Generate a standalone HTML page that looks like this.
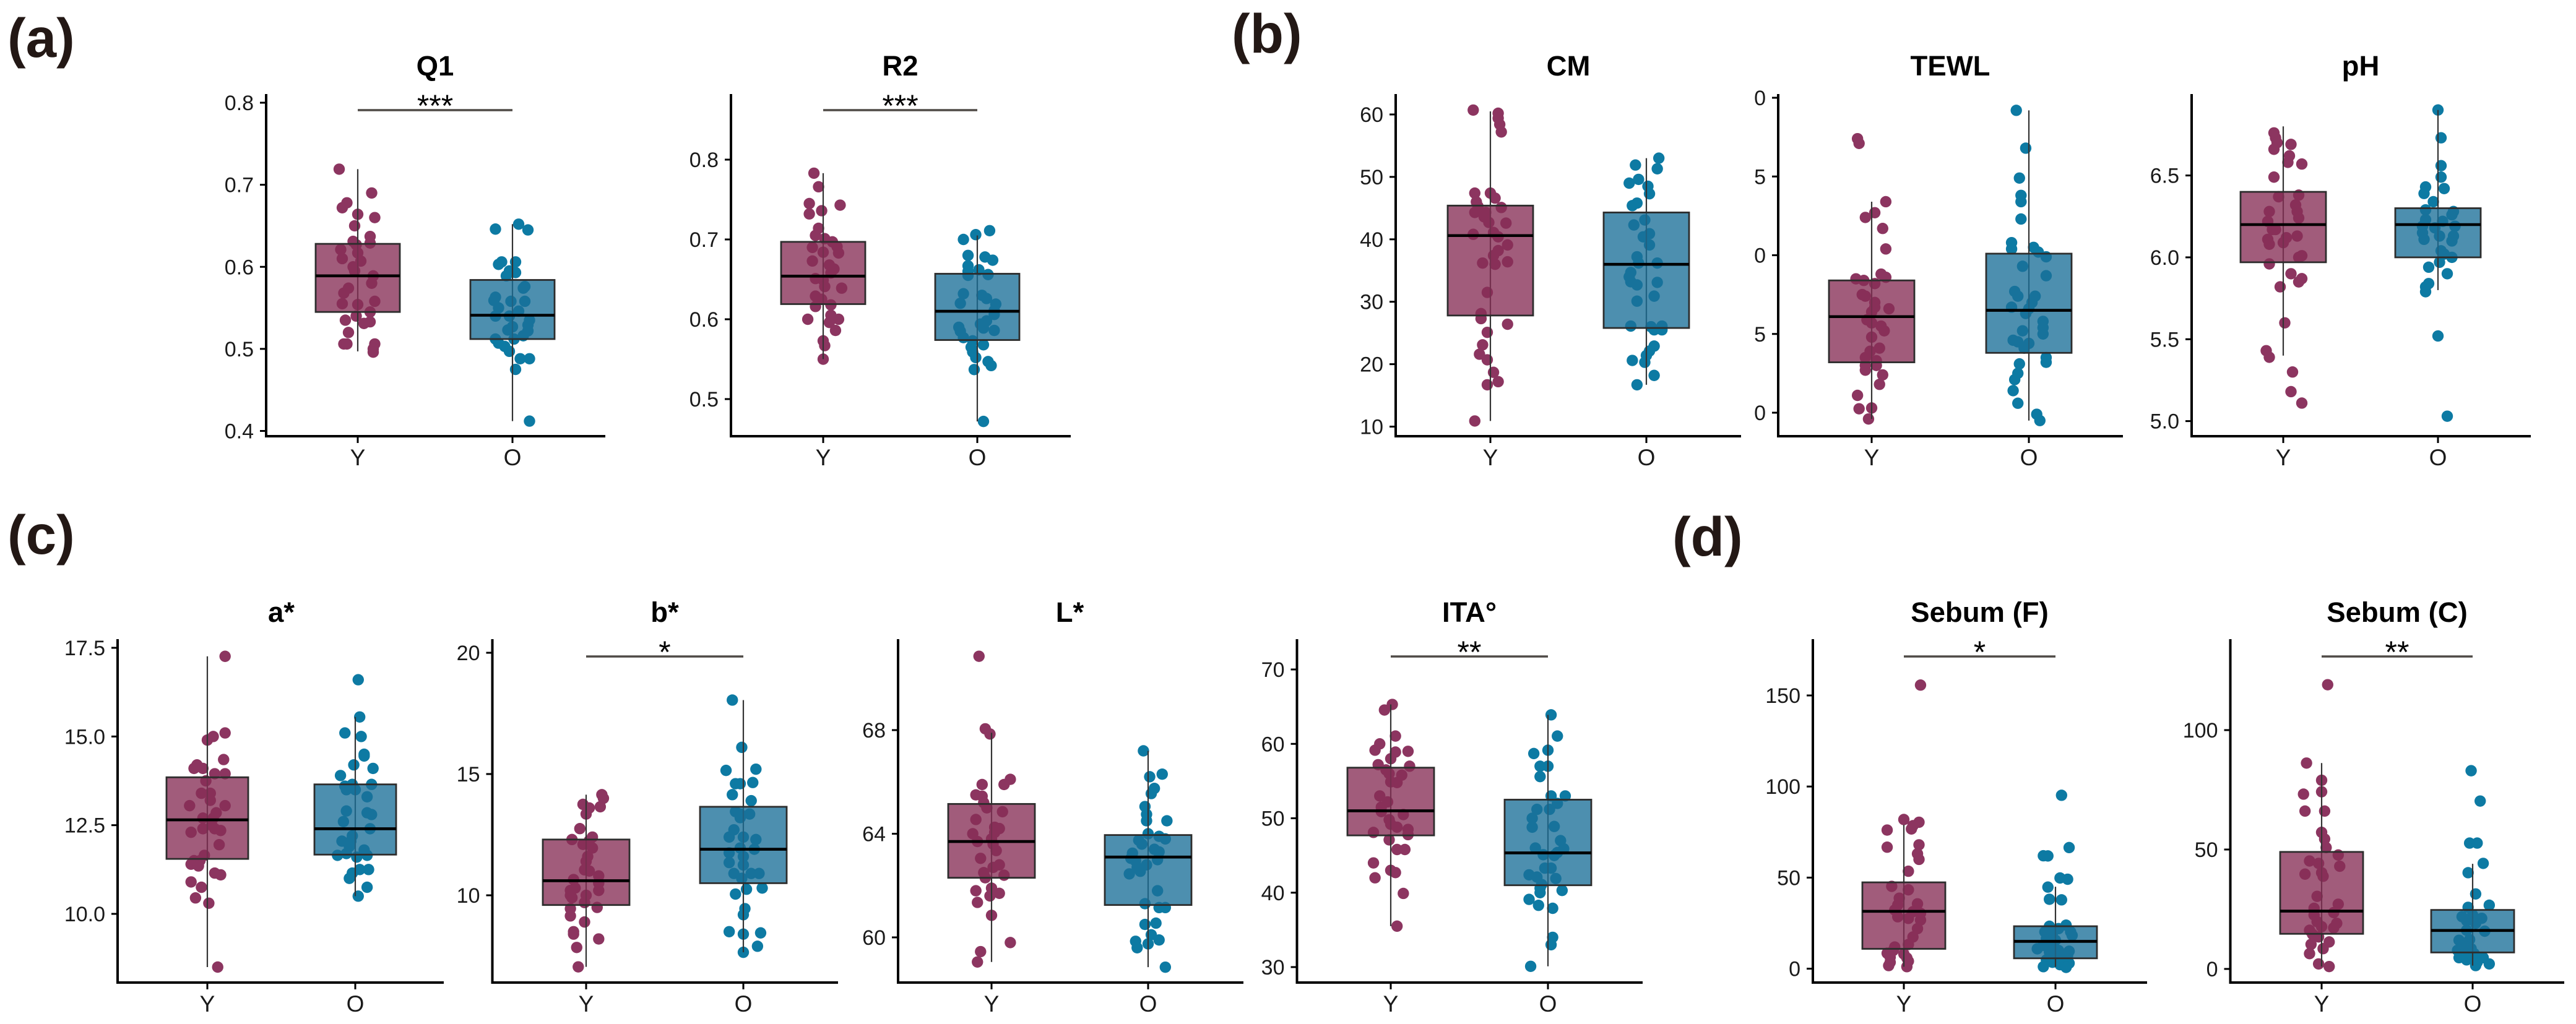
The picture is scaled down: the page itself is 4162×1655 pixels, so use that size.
<!DOCTYPE html>
<html lang="en">
<head>
<meta charset="utf-8">
<title>Skin parameters by age group</title>
<style>
html,body{margin:0;padding:0;background:#fff;width:4162px;height:1655px;overflow:hidden}
svg{display:block;font-family:"Liberation Sans",Arial,sans-serif}
</style>
</head>
<body>
<svg id="figure" xmlns="http://www.w3.org/2000/svg" width="4162" height="1655" viewBox="0 0 4162 1655">
<rect x="0" y="0" width="4162" height="1655" fill="#fff"/>
<text x="12" y="92" font-size="89" font-weight="700" fill="#231815">(a)</text>
<text x="1990" y="85" font-size="89" font-weight="700" fill="#231815">(b)</text>
<text x="12" y="895" font-size="89" font-weight="700" fill="#231815">(c)</text>
<text x="2702" y="898" font-size="89" font-weight="700" fill="#231815">(d)</text>
</svg>
<script>
const categories = ['Y', 'O'];

/* box stats: [whisker low, q1, median, q3, whisker high] */
const q1BoxY = [0.497, 0.545, 0.589, 0.628, 0.719];
const q1BoxO = [0.412, 0.512, 0.541, 0.584, 0.652];
const q1ValuesY = [.719,.69,.678,.672,.664,.66,.65,.637,.631,.627,.629,.621,.617,.61,.607,.6,.595,.589,.58,.574,.568,.558,.555,.554,.545,.54,.535,.533,.531,.52,.506,.506,.506,.5,.496];
const q1JitterY = [-.12,.09,-.07,-.1,0,.11,-.02,.08,-.03,-.01,.08,-.11,0,-.1,.02,-.03,-.02,.1,.09,-.06,-.09,.11,-.1,0,.08,-.01,-.08,.08,.04,-.06,-.09,-.07,.11,.1,.1];
const q1ValuesO = [.646,.652,.645,.606,.603,.606,.589,.595,.593,.576,.574,.563,.559,.558,.558,.55,.546,.54,.54,.535,.529,.527,.523,.522,.516,.512,.512,.507,.503,.497,.488,.488,.475,.412];
const q1JitterO = [-.11,.04,.1,-.07,-.09,.02,-.04,-.02,.02,.08,.07,-.11,-.12,-.01,.08,-.09,.04,-.11,-.02,.11,.1,0,-.03,.1,.07,-.11,.01,-.09,-.05,-.02,.05,.11,.02,.11];
const q1Ticks = [0.4, 0.5, 0.6, 0.7, 0.8];
const q1TickLabels = ['0.4', '0.5', '0.6', '0.7', '0.8'];

const r2BoxY = [0.55, 0.619, 0.654, 0.697, 0.783];
const r2BoxO = [0.472, 0.574, 0.61, 0.657, 0.705];
const r2ValuesY = [.783,.766,.745,.743,.736,.732,.714,.705,.701,.697,.69,.691,.684,.683,.673,.668,.663,.658,.651,.649,.641,.639,.629,.625,.618,.616,.605,.6,.6,.596,.586,.573,.567,.55];
const r2JitterY = [-.06,-.03,-.09,.11,-.01,-.09,-.03,-.05,.01,.06,-.07,.09,0,.1,-.07,.04,.07,.05,-.05,0,.01,.12,-.05,-.01,.05,-.05,.05,-.1,.1,.04,.08,0,.01,0];
const r2ValuesO = [.711,.706,.7,.68,.678,.674,.667,.66,.662,.655,.656,.632,.63,.626,.62,.619,.611,.606,.598,.594,.59,.585,.589,.586,.577,.573,.568,.565,.559,.552,.547,.542,.537,.472];
const r2JitterO = [.08,-.01,-.09,-.06,.05,.1,-.06,-.06,.01,-.06,.07,-.09,.03,.06,-.11,.12,.11,.11,.06,.02,-.12,-.11,.04,.11,-.09,-.03,.04,-.04,-.03,-.01,.07,.09,-.02,.04];
const r2Ticks = [0.5, 0.6, 0.7, 0.8];
const r2TickLabels = ['0.5', '0.6', '0.7', '0.8'];

const cmBoxY = [10.9, 27.8, 40.6, 45.4, 60.5];
const cmBoxO = [16.7, 25.8, 36, 44.3, 53];
const cmValuesY = [60.7,60.2,59.4,58.4,57.2,47.4,47.4,46.6,46,45.3,45.1,44.3,44.3,43.6,42.7,42.6,40.8,41.1,40.4,39.1,38.2,37.4,36.2,36.4,36,31.5,28.1,27.3,26.4,25.1,23.1,21.6,20.7,18.7,17.2,16.7,10.9];
const cmJitterY = [-.11,.05,.05,.06,.07,-.1,0,.03,-.09,-.08,.07,-.1,-.03,-.04,-.01,.1,-.11,.02,.05,.11,.05,.02,-.05,.11,.03,-.02,-.06,-.06,.11,-.02,-.05,-.07,-.02,.02,.05,-.02,-.1];
const cmValuesO = [53,51.9,51.3,49,49.6,48.5,47.3,45.8,45.4,43.1,42.3,40.9,40.4,39.1,37.2,36.2,36.2,34.7,34,33.2,33.1,32.7,30.9,30.1,26.1,26,26.1,25.5,25.5,22.9,22.1,21.4,20.6,20.3,18.2,16.7];
const cmJitterO = [.08,-.07,.07,-.11,-.05,.01,.02,-.06,-.09,-.01,-.08,.02,-.02,.02,-.06,-.05,.07,-.1,-.11,-.1,.07,-.06,.05,-.06,-.1,.03,.1,.05,.1,.05,.02,0,-.09,-.01,.05,-.06];
const cmTicks = [10, 20, 30, 40, 50, 60];
const cmTickLabels = ['10', '20', '30', '40', '50', '60'];

const tewlBoxY = [-0.4, 3.2, 6.1, 8.4, 13.4];
const tewlBoxO = [-0.5, 3.8, 6.5, 10.1, 19.2];
const tewlValuesY = [17.4,17.1,13.4,12.7,12.4,11.7,10.4,8.6,8.8,8.5,8.4,8.2,7.5,7.4,7,6.7,6.6,6.4,5.9,5.7,5.5,5.2,4.8,4.1,3.9,3.5,3.3,3,3,2.7,2.4,1.8,1.1,.3,.25,-.4];
const tewlJitterY = [-.09,-.08,.09,.02,-.04,.07,.09,.09,.06,-.1,-.05,.02,-.06,-.04,.02,.02,.11,0,-.03,0,.06,.08,0,.05,-.01,-.04,.03,-.04,.03,-.04,.07,.05,-.09,0,-.08,-.02];
const tewlValuesO = [19.2,16.8,14.9,13.8,13.4,12.3,10.8,10.4,10.5,10.2,9.9,9.3,8.7,7.7,7.4,7.4,7,6.7,6.6,6.3,5.8,5.4,5.2,5,4.6,4.5,4.4,4.1,3.5,3.2,3.1,2.5,2.1,1.4,.6,-.1,-.5];
const tewlJitterO = [-.08,-.02,-.06,-.05,-.05,-.05,-.11,-.11,.03,.06,.11,-.04,.11,-.09,-.07,.04,.02,-.11,0,-.02,.09,.09,-.04,.09,-.1,-.07,0,-.03,.11,.11,-.06,-.07,-.09,-.1,-.07,.05,.07];
const tewlTicks = [0, 5, 10, 15, 20];
const tewlTickLabels = ['0', '5', '0', '5', '0'];

const phBoxY = [5.4, 5.97, 6.2, 6.4, 6.8];
const phBoxO = [5.8, 6.0, 6.2, 6.3, 6.9];
const phValuesY = [6.76,6.73,6.7,6.69,6.66,6.62,6.58,6.57,6.49,6.38,6.37,6.32,6.28,6.28,6.24,6.22,6.17,6.17,6.13,6.12,6.11,6.09,6.08,6.01,6,5.96,5.9,5.87,5.85,5.82,5.6,5.43,5.39,5.3,5.18,5.11];
const phJitterY = [-.06,-.05,-.04,.05,-.06,.04,.03,.12,-.06,.1,-.03,.08,.09,-.09,.1,-.1,-.05,-.07,.09,.02,-.1,0,-.09,.12,.1,-.09,.05,.12,.1,-.02,.01,-.11,-.09,.06,.05,.12];
const phValuesO = [6.9,6.73,6.56,6.49,6.43,6.42,6.39,6.34,6.29,6.28,6.26,6.23,6.22,6.19,6.18,6.19,6.15,6.13,6.13,6.11,6.1,6.04,6.02,6,5.97,5.94,5.9,5.84,5.82,5.79,5.52,5.03];
const phJitterO = [0,.02,.02,.02,-.08,.04,-.09,-.03,-.08,.1,.09,-.08,.03,-.1,-.02,.11,-.1,.01,.1,-.09,.09,.02,.04,.09,.01,-.06,.06,-.06,-.08,-.08,0,.06];
const phTicks = [5.0, 5.5, 6.0, 6.5];
const phTickLabels = ['5.0', '5.5', '6.0', '6.5'];

const aBoxY = [8.5, 11.55, 12.65, 13.85, 17.26];
const aBoxO = [10.5, 11.67, 12.4, 13.65, 15.55];
const aValuesY = [17.26,15.1,15,14.9,14.35,14.2,14.1,14.1,13.95,13.95,13.75,13.4,13.4,13.2,13.05,13.05,12.85,12.7,12.7,12.5,12.4,12.4,12.35,12.3,11.95,11.65,11.5,11.5,11.4,11.35,11.15,11.1,10.9,10.75,10.45,10.3,8.5];
const aJitterY = [.12,.12,.04,0,.11,-.07,-.09,-.03,.05,.12,-.01,-.04,.02,.02,.12,-.12,.06,-.03,.04,.03,.05,-.03,.09,-.11,.08,-.02,-.09,-.05,-.11,-.06,.05,.09,-.11,-.04,-.08,.01,.07];
const aValuesO = [16.6,15.55,15.1,15,14.5,14.45,14.2,14.1,13.9,13.6,13.65,13.65,13.5,13.5,13.3,12.9,12.85,12.8,12.6,12.4,12.2,12.05,12.05,11.9,11.8,11.7,11.65,11.65,11.6,11.25,11.25,11.15,11,10.75,10.5];
const aJitterO = [.02,.03,-.07,.04,.06,.06,-.01,.12,-.1,-.07,-.02,.11,-.06,0,.08,-.06,.08,.11,-.08,.1,-.02,-.09,-.03,-.04,.06,-.06,-.12,.08,.01,.09,.03,-.02,-.04,.08,.02];
const aTicks = [10, 12.5, 15, 17.5];
const aTickLabels = ['10.0', '12.5', '15.0', '17.5'];

const bBoxY = [7.05, 9.6, 10.6, 12.3, 14.15];
const bBoxO = [7.65, 10.5, 11.9, 13.65, 18.05];
const bValuesY = [14.15,14,13.75,13.65,13.6,13.35,12.75,12.4,12.3,12.25,12.1,11.95,11.6,11.4,11.05,11,10.8,10.65,10.5,10.2,10.3,10.2,10,10,9.9,9.7,9.5,9.45,9.15,8.9,8.5,8.4,8.2,7.85,7.05];
const bJitterY = [.1,.11,-.02,.09,.02,0,-.04,.04,-.09,.02,-.02,.04,.01,0,-.01,.02,.08,-.08,.08,-.1,-.07,.08,-.1,0,-.09,-.01,.07,-.1,-.1,-.01,-.08,-.08,.08,-.06,-.05];
const bValuesO = [18.05,16.1,15.15,15.2,14.6,14.6,14.65,14.15,13.9,13.45,13.35,13.35,13.2,12.7,12.4,12.4,12.3,11.95,11.9,11.75,11.6,11.35,11.25,10.9,10.9,10.9,10.7,10.25,10.3,10.05,9.45,9.2,8.5,8.45,8.4,7.9,7.65];
const bJitterO = [-.07,-.01,-.11,.08,-.05,-.02,.06,-.07,.05,-.05,-.02,.04,-.02,-.06,-.09,0,.08,-.02,.07,-.09,0,-.09,0,-.06,.1,.05,-.01,.02,.12,-.05,.01,0,-.09,.11,0,.09,0];
const bTicks = [10, 15, 20];
const bTickLabels = ['10', '15', '20'];

const lBoxY = [59.05, 62.3, 63.7, 65.15, 67.9];
const lBoxO = [58.85, 61.25, 63.1, 63.95, 67.2];
const lValuesY = [70.85,68.05,67.85,66.1,65.9,65.9,65.5,65.45,65.2,65,64.85,64.55,64.25,64.2,64,64.05,63.8,63.7,63.6,63.35,63.05,62.8,62.7,62.5,62.4,62.3,61.8,61.9,61.7,61.6,61.35,60.85,59.8,59.45,59.05];
const lJitterY = [-.08,-.04,-.01,.12,.08,-.06,-.1,-.06,-.05,-.03,.07,-.1,.02,.05,-.12,.02,0,-.09,.01,.03,-.07,.05,.01,-.05,.08,-.04,-.1,0,.05,-.01,-.09,0,.12,-.07,-.09];
const lValuesO = [67.2,66.3,66.2,65.75,65.55,65.05,64.75,64.5,64.5,64,63.9,63.8,63.75,63.6,63.4,63.3,63.25,63.05,63,62.95,62.8,62.7,62.55,62.45,61.8,61.3,61.15,61.15,60.55,60.5,60.1,59.85,59.9,59.75,59.6,58.85];
const lJitterO = [-.03,.09,.01,.04,.02,-.02,-.01,-.01,.12,0,.07,.11,-.06,-.04,.04,.07,-.1,-.11,.06,-.08,-.01,-.07,-.05,-.12,.06,-.02,.07,.11,.05,-.02,.02,-.08,.07,0,-.07,.11];
const lTicks = [60, 64, 68];
const lTickLabels = ['60', '64', '68'];

const itaBoxY = [35.5, 47.7, 51, 56.8, 65.3];
const itaBoxO = [30.1, 41, 45.35, 52.5, 63.9];
const itaValuesY = [65.3,64.55,61.05,60,59.15,58.9,59,58,57.2,57,56.5,56,55.8,54.9,54.8,53,52.2,51.5,50.9,50.5,49.8,49.2,48.8,48.1,48.5,47.8,47.1,45.8,45.8,44,43,42.7,42,39.9,35.5];
const itaJitterY = [.01,-.04,.03,-.07,-.1,.03,.11,0,-.08,.12,-.03,-.01,.07,0,.04,-.07,-.02,-.06,-.06,.08,-.01,0,.04,-.11,.11,.11,-.01,.04,.09,-.11,0,.03,-.1,.08,.04];
const itaValuesO = [63.9,61.05,59.15,58.7,57,57,55.6,53,53,52,51.2,51.2,50,48.8,48.9,47,45.9,46,45.4,45.1,45,43.3,43.3,42.4,42.1,41.9,41.1,40.6,40.3,40,39.1,38.3,37.9,34,33,30.1];
const itaJitterO = [.02,.06,0,-.09,-.05,0,-.05,.02,.11,.06,-.07,.01,-.1,-.1,.04,.08,.1,-.08,.06,-.03,.04,-.02,.02,-.12,-.07,.05,-.04,-.05,.09,-.05,-.12,-.06,.03,.03,.02,-.11];
const itaTicks = [30, 40, 50, 60, 70];
const itaTickLabels = ['30', '40', '50', '60', '70'];

const sebFBoxY = [1.1, 10.9, 31.5, 47.4, 79];
const sebFBoxO = [1, 5.7, 15, 23.3, 45];
const sebFValuesY = [155.7,81.9,80.4,78.5,76.1,76.7,68,66.7,63.1,60,53.5,45.2,43.3,38.7,35,35.6,32.2,31.3,30.4,28.5,27.6,26.7,22,17.4,13.3,11.9,10,8.5,8.1,6.3,5.9,4.1,3.5,1.7,1.1];
const sebFJitterY = [.11,0,.1,.06,-.11,.05,.1,-.11,.09,.1,.03,-.08,.03,-.03,-.04,.09,-.06,.06,.11,-.04,.03,.11,.09,.06,.03,-.06,-.07,-.11,0,-.09,.02,.03,-.09,-.1,.02];
const sebFValuesO = [95.2,66.5,62,61.9,49.8,49.1,44.8,38.1,37.8,23.9,23.3,22,20.2,20.2,19.3,18.3,16.5,15.6,10.9,12.8,11.9,9.6,9.1,8.1,7.2,5.9,4.8,4.4,3.5,3,1.1,2.2,.7,5.9,10];
const sebFJitterO = [.04,.09,-.08,-.05,.03,.08,-.05,-.04,.04,.07,-.04,.02,-.07,.1,-.02,.11,-.06,0,-.12,-.08,-.02,.09,-.04,0,.08,.02,-.06,.05,-.02,.09,-.08,.03,.07,-.02,.02];
const sebFTicks = [0, 50, 100, 150];
const sebFTickLabels = ['0', '50', '100', '150'];

const sebCBoxY = [1, 14.7, 24.2, 49, 86.2];
const sebCBoxO = [1.4, 6.9, 16.1, 24.7, 44];
const sebCValuesY = [119,86.2,79,74.2,73.2,66.1,66.1,57.2,54.4,50.8,47.7,45.2,44.2,43,39.7,40.3,38.8,30.4,27.1,25.4,23.6,22.6,19.8,19.1,17.7,16.2,17.2,14.5,13.4,11.3,10.3,8.5,6.4,2.1,1];
const sebCJitterY = [.04,-.1,0,0,-.12,-.11,.02,0,.02,.03,.11,-.08,-.02,.12,-.11,0,.01,-.03,.11,-.05,.08,-.05,-.03,.1,0,-.08,.08,-.06,-.02,.05,-.07,.01,-.08,-.02,.05];
const sebCValuesO = [83,70.3,52.7,52.7,44.2,40.3,31.4,26.7,25.8,21.9,22.6,21.2,20.2,19.1,16.2,15.8,12.3,12,9.9,8.5,7.8,7.1,6.4,4.7,4.7,3.8,2.8,2.1,1.4,10.6,9.2];
const sebCJitterO = [-.01,.05,-.02,.03,.07,-.03,.02,.11,-.03,-.07,0,.06,-.04,.02,-.04,.08,-.02,-.09,-.07,-.01,-.1,-.05,.01,-.09,.07,-.04,.03,.11,.02,-.07,-.03];
const sebCTicks = [0, 50, 100];
const sebCTickLabels = ['0', '50', '100'];

const SVG_NS = 'http://www.w3.org/2000/svg';
const svg = document.getElementById('figure');

function add(tag, parent, attrs) {
  const el = document.createElementNS(SVG_NS, tag);
  for (const k in attrs) el.setAttribute(k, attrs[k]);
  parent.appendChild(el);
  return el;
}

const panels = [
  {id:'q1',title:'Q1',sig:'***',l:430,r:978,t:152,b:705,xY:578,xO:828,hw:68,sigY:178,calib:[0.4,696.5,0.8,166],
   ticks:q1Ticks,labels:q1TickLabels,boxY:q1BoxY,boxO:q1BoxO,vY:q1ValuesY,jY:q1JitterY,vO:q1ValuesO,jO:q1JitterO},
  {id:'r2',title:'R2',sig:'***',l:1181,r:1730,t:152,b:705,xY:1330,xO:1579,hw:68,sigY:178,calib:[0.5,645,0.8,258],
   ticks:r2Ticks,labels:r2TickLabels,boxY:r2BoxY,boxO:r2BoxO,vY:r2ValuesY,jY:r2JitterY,vO:r2ValuesO,jO:r2JitterO},
  {id:'cm',title:'CM',sig:'',l:2255,r:2813,t:152,b:705,xY:2408,xO:2660,hw:69,calib:[10,689.5,60,185],
   ticks:cmTicks,labels:cmTickLabels,boxY:cmBoxY,boxO:cmBoxO,vY:cmValuesY,jY:cmJitterY,vO:cmValuesO,jO:cmJitterO},
  {id:'tewl',title:'TEWL',sig:'',l:2873,r:3430,t:152,b:705,xY:3024,xO:3278,hw:69,calib:[0,667,20,158],
   ticks:tewlTicks,labels:tewlTickLabels,boxY:tewlBoxY,boxO:tewlBoxO,vY:tewlValuesY,jY:tewlJitterY,vO:tewlValuesO,jO:tewlJitterO},
  {id:'ph',title:'pH',sig:'',l:3541,r:4089,t:152,b:705,xY:3689,xO:3939,hw:69,calib:[5,680.6,6.5,283.6],
   ticks:phTicks,labels:phTickLabels,boxY:phBoxY,boxO:phBoxO,vY:phValuesY,jY:phJitterY,vO:phValuesO,jO:phJitterO},
  {id:'a',title:'a*',sig:'',l:190,r:717,t:1033,b:1588,xY:335,xO:574,hw:66,calib:[10,1477,17.5,1047],
   ticks:aTicks,labels:aTickLabels,boxY:aBoxY,boxO:aBoxO,vY:aValuesY,jY:aJitterY,vO:aValuesO,jO:aJitterO},
  {id:'b',title:'b*',sig:'*',l:795.5,r:1354,t:1033,b:1588,xY:947,xO:1201,hw:70,sigY:1061,calib:[10,1447,20,1055],
   ticks:bTicks,labels:bTickLabels,boxY:bBoxY,boxO:bBoxO,vY:bValuesY,jY:bJitterY,vO:bValuesO,jO:bJitterO},
  {id:'l',title:'L*',sig:'',l:1451,r:2009,t:1033,b:1588,xY:1602,xO:1855,hw:70,calib:[60,1515,68,1180],
   ticks:lTicks,labels:lTickLabels,boxY:lBoxY,boxO:lBoxO,vY:lValuesY,jY:lJitterY,vO:lValuesO,jO:lJitterO},
  {id:'ita',title:'ITA°',sig:'**',l:2095.5,r:2654,t:1033,b:1588,xY:2247,xO:2501,hw:70,sigY:1061,calib:[30,1563,70,1082],
   ticks:itaTicks,labels:itaTickLabels,boxY:itaBoxY,boxO:itaBoxO,vY:itaValuesY,jY:itaJitterY,vO:itaValuesO,jO:itaJitterO},
  {id:'sebum-f',title:'Sebum (F)',sig:'*',l:2929,r:3469,t:1033,b:1588,xY:3076,xO:3321,hw:67,sigY:1061,calib:[0,1565.6,150,1124],
   ticks:sebFTicks,labels:sebFTickLabels,boxY:sebFBoxY,boxO:sebFBoxO,vY:sebFValuesY,jY:sebFJitterY,vO:sebFValuesO,jO:sebFJitterO},
  {id:'sebum-c',title:'Sebum (C)',sig:'**',l:3603.5,r:4143,t:1033,b:1588,xY:3751,xO:3995,hw:67,sigY:1061,calib:[0,1566,100,1180],
   ticks:sebCTicks,labels:sebCTickLabels,boxY:sebCBoxY,boxO:sebCBoxO,vY:sebCValuesY,jY:sebCJitterY,vO:sebCValuesO,jO:sebCJitterO}
];

const groupStyles = {
  Y: {dot:'#8c3560', fill:'#872e56'},
  O: {dot:'#0d7aa3', fill:'#1b6f99'}
};

function drawGroup(g, p, cat, cx, box, values, jitter, yOf) {
  const st = groupStyles[cat];
  const spacing = p.xO - p.xY;
  const series = add('g', g, {});
  
  
  values.forEach(function (v, i) {
    const dot = add('circle', series, {cx:cx + jitter[i] * spacing, cy:yOf(v), r:9.2, fill:st.dot});
    
    
  });
  const whisker = add('line', series, {x1:cx, x2:cx, y1:yOf(box[0]), y2:yOf(box[4]), stroke:'#333', 'stroke-width':2.2});
  
  
  const rect = add('rect', series, {x:cx - p.hw, width:2 * p.hw, y:yOf(box[3]), height:yOf(box[1]) - yOf(box[3]),
    fill:st.fill, 'fill-opacity':0.78, stroke:'#2d2d2d', 'stroke-width':2.8});
  
  
  const median = add('line', series, {x1:cx - p.hw, x2:cx + p.hw, y1:yOf(box[2]), y2:yOf(box[2]), stroke:'#000', 'stroke-width':4.6});
  
  
}

panels.forEach(function (p) {
  const c = p.calib;
  const yOf = function (v) { return c[1] + (v - c[0]) * (c[3] - c[1]) / (c[2] - c[0]); };
  const g = add('g', svg, {});
  
  

  drawGroup(g, p, categories[0], p.xY, p.boxY, p.vY, p.jY, yOf);
  drawGroup(g, p, categories[1], p.xO, p.boxO, p.vO, p.jO, yOf);

  const yAxis = add('line', g, {x1:p.l, x2:p.l, y1:p.t, y2:p.b + 2, stroke:'#000', 'stroke-width':4});
  
  
  const xAxis = add('line', g, {x1:p.l - 2, x2:p.r, y1:p.b, y2:p.b, stroke:'#000', 'stroke-width':4});
  
  

  p.ticks.forEach(function (v, i) {
    const ty = yOf(v);
    const tick = add('line', g, {x1:p.l - 10, x2:p.l, y1:ty, y2:ty, stroke:'#000', 'stroke-width':3});
    
    
    const lab = add('text', g, {x:p.l - 20, y:ty + 12, 'text-anchor':'end', 'font-size':34, fill:'#1a1a1a'});
    
    
    lab.textContent = p.labels[i];
  });

  [p.xY, p.xO].forEach(function (x, i) {
    const tick = add('line', g, {x1:x, x2:x, y1:p.b, y2:p.b + 11, stroke:'#000', 'stroke-width':3});
    
    
    const lab = add('text', g, {x:x, y:p.b + 47, 'text-anchor':'middle', 'font-size':37, fill:'#1a1a1a'});
    
    
    lab.textContent = categories[i];
  });

  const mid = (p.xY + p.xO) / 2;
  const title = add('text', g, {x:mid, y:p.t < 500 ? 122 : 1005, 'text-anchor':'middle', 'font-size':45.5, 'font-weight':700, fill:'#000'});
  
  
  title.textContent = p.title;

  if (p.sig) {
    const bar = add('line', g, {x1:p.xY, x2:p.xO, y1:p.sigY, y2:p.sigY, stroke:'#4f4a46', 'stroke-width':3.4});
    
    
    const stars = add('text', g, {x:mid, y:p.sigY + 10, 'text-anchor':'middle', 'font-size':50, fill:'#000'});
    
    
    stars.textContent = p.sig;
  }
});
</script>
</body>
</html>
